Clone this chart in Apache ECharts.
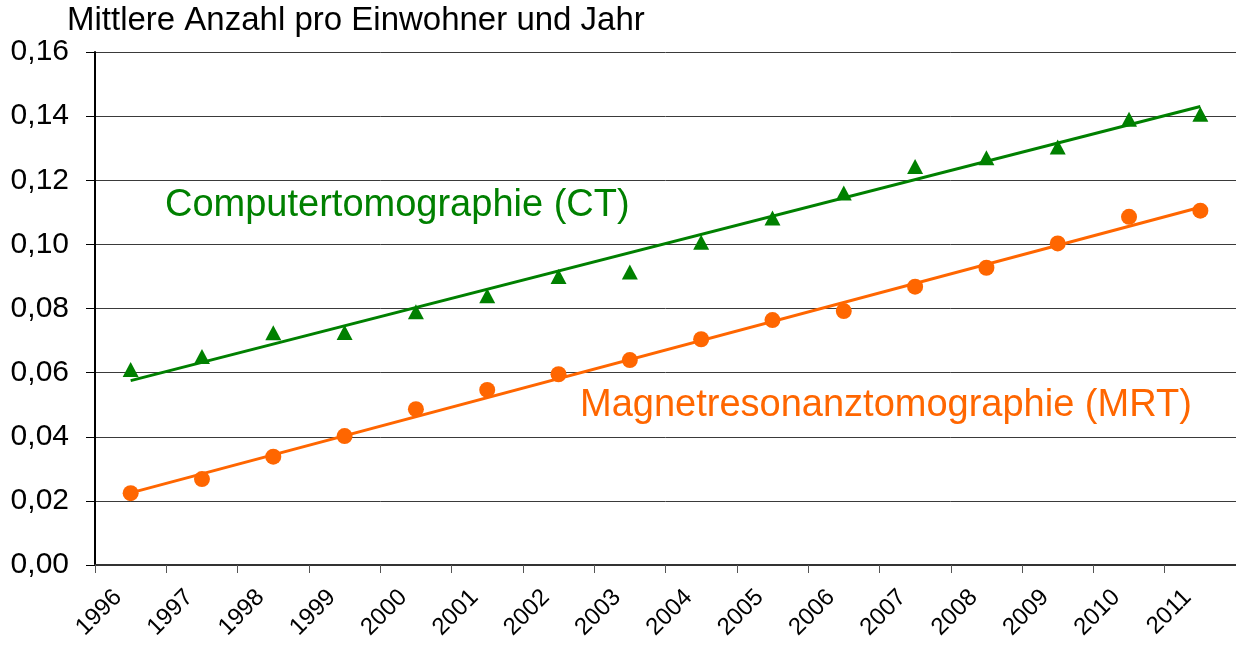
<!DOCTYPE html>
<html>
<head>
<meta charset="utf-8">
<script src="https://cdn.jsdelivr.net/npm/echarts@6/dist/echarts.min.js"></script>
<style>
  html, body { margin: 0; padding: 0; background: #fff; }
  #chart { width: 1236px; height: 645px; }
</style>
</head>
<body>
<div id="chart"></div>
<script>
var years = ['1996','1997','1998','1999','2000','2001','2002','2003','2004','2005','2006','2007','2008','2009','2010','2011']
var ctValues = [0.061,0.065,0.0724,0.0725,0.079,0.084,0.090,0.0914,0.1007,0.1082,0.116,0.1243,0.127,0.1304,0.139,0.1406]
var mrtValues = [0.0224,0.0268,0.0338,0.0402,0.0486,0.0546,0.0595,0.0639,0.0704,0.0764,0.0792,0.0868,0.0927,0.1003,0.1086,0.1105]
// Trendlinien: Start- und Endwert (1996 / 2011)
var ctTrend = [0.0575, 0.1430]
var mrtTrend = [0.0225, 0.1116]

var green = '#008000'
var orange = '#ff6600'
var font = '"Liberation Sans", Arial, sans-serif'

var myChart = echarts.init(document.getElementById('chart'))

var option = {
  animation: false,
  grid: { left: 95, right: 0, top: 52, bottom: 80 },
  xAxis: {
    type: 'category',
    data: years,
    boundaryGap: true,
    axisLine: { lineStyle: { color: '#333', width: 2 } },
    axisTick: { show: true, length: 8, lineStyle: { color: '#555', width: 1 } },
    axisLabel: {
      rotate: 45,
      margin: 16,
      padding: [0, 18, 0, 0],
      fontSize: 24,
      fontFamily: font,
      color: '#000'
    },
    splitLine: { show: false }
  },
  yAxis: {
    type: 'value',
    min: 0,
    max: 0.16,
    interval: 0.02,
    axisLine: { show: true, lineStyle: { color: '#000', width: 2 } },
    axisTick: { show: true, length: 9, lineStyle: { color: '#000', width: 1 } },
    axisLabel: {
      margin: 26,
      fontSize: 30,
      fontFamily: font,
      color: '#000',
      formatter: function (v) { return v.toFixed(2).replace('.', ',') }
    },
    splitLine: { show: true, lineStyle: { color: '#3a3a3a', width: 1 } }
  },
  graphic: [
    {
      type: 'text', left: 67, top: 4,
      style: { text: 'Mittlere Anzahl pro Einwohner und Jahr', font: '33px ' + font, fill: '#000' }
    },
    {
      type: 'text', left: 165, top: 187,
      style: { text: 'Computertomographie (CT)', font: '38px ' + font, fill: green }
    },
    {
      type: 'text', left: 580, top: 387,
      style: { text: 'Magnetresonanztomographie (MRT)', font: '38px ' + font, fill: orange }
    }
  ],
  series: [
    {
      name: 'CT Trend',
      type: 'line',
      data: [[years[0], ctTrend[0]], [years[years.length - 1], ctTrend[1]]],
      symbol: 'none',
      lineStyle: { color: green, width: 3 },
      z: 2
    },
    {
      name: 'MRT Trend',
      type: 'line',
      data: [[years[0], mrtTrend[0]], [years[years.length - 1], mrtTrend[1]]],
      symbol: 'none',
      lineStyle: { color: orange, width: 3 },
      z: 2
    },
    {
      name: 'CT',
      type: 'scatter',
      data: ctValues,
      symbol: 'triangle',
      symbolSize: [16, 15],
      itemStyle: { color: green, opacity: 1 },
      z: 3
    },
    {
      name: 'MRT',
      type: 'scatter',
      data: mrtValues,
      symbol: 'circle',
      symbolSize: 16,
      itemStyle: { color: orange, opacity: 1 },
      z: 3
    }
  ]
}

myChart.setOption(option)
</script>
</body>
</html>
